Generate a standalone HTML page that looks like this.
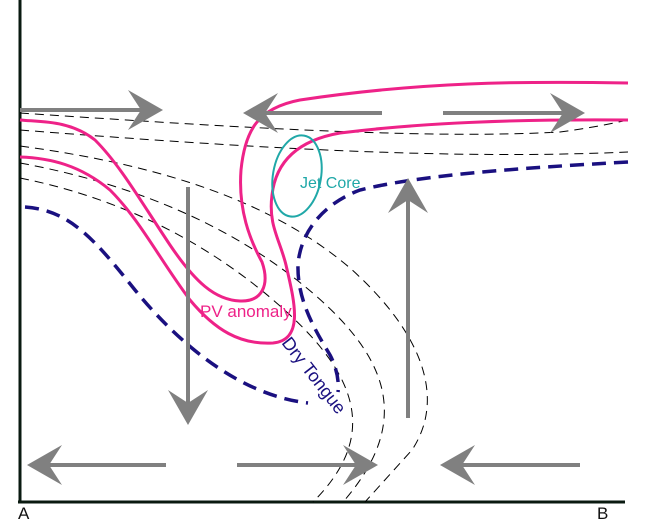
<!DOCTYPE html>
<html><head><meta charset="utf-8"><style>
html,body{margin:0;padding:0;background:#fff;}
svg{display:block;}
text{font-family:"Liberation Sans",sans-serif;}
</style></head><body>
<svg width="650" height="524" viewBox="0 0 650 524" xmlns="http://www.w3.org/2000/svg">
<line x1="20" y1="0" x2="20" y2="503" stroke="#0a1a10" stroke-width="3"/>
<line x1="18" y1="502" x2="625" y2="502" stroke="#0a1a10" stroke-width="3"/>
<text x="18" y="519" font-size="17" fill="#111">A</text>
<text x="597" y="519" font-size="17" fill="#111">B</text>

<g fill="none" stroke="#000" stroke-width="1" stroke-dasharray="9,6">
<path d="M20,113 C200,125 420,140 560,132 C590,128 610,124 628,120"/>
<path d="M20,130 C250,148 450,160 628,152"/>
<path d="M20,146 C160,165 270,200 350,268 C425,335 445,400 412,450 L365,502"/>
<path d="M20,163 C140,185 240,230 315,295 C392,362 410,425 343,502"/>
<path d="M20,178 C130,200 220,250 290,315 C362,382 375,440 313,502"/>
</g>

<g fill="none" stroke="#1a1080" stroke-width="3.5" stroke-dasharray="14,8">
<path d="M25,207 C70,210 95,240 135,290 C180,345 240,395 308,403"/>
<path d="M628,162 C520,168 420,175 360,190 C320,205 300,235 298,265 C297,300 315,330 330,355 C338,370 339,385 338,392"/>
</g>

<g fill="none" stroke="#ee2288" stroke-width="3">
<path d="M628,83 C520,81 420,82 300,100 C258,108 245,130 241,170 C238,210 250,240 262,262 C270,285 262,302 240,301 C215,300 195,282 170,245 C140,200 120,165 95,140 C70,120 40,122 20,120"/>
<path d="M628,120 C520,119 420,123 340,133 C300,140 276,160 272,195 C268,225 280,240 286,265 C294,300 305,340 273,343 C240,345 215,330 190,300 C160,260 140,220 110,190 C80,165 50,158 20,157"/>
</g>

<ellipse cx="297" cy="176" rx="24" ry="41" transform="rotate(10 297 176)" fill="none" stroke="#20a8a8" stroke-width="2"/>
<text x="300" y="188" font-size="16" fill="#20a8a8">Jet Core</text>
<text x="200" y="317" font-size="17" fill="#ee2288">PV anomaly</text>
<text x="281" y="343" font-size="18" fill="#1a1080" transform="rotate(52 281 343)">Dry Tongue</text>

<g stroke="#808080" stroke-width="4" fill="#808080">
<line x1="20" y1="110" x2="141" y2="110"/>
<polygon stroke="none" points="163,110 128,90 141,110 128,130"/>
<line x1="265" y1="113" x2="382" y2="113"/>
<polygon stroke="none" points="243,113 278,93 265,113 278,133"/>
<line x1="443" y1="113" x2="563" y2="113"/>
<polygon stroke="none" points="585,113 550,93 563,113 550,133"/>
<line x1="188" y1="187" x2="188" y2="403"/>
<polygon stroke="none" points="188,425 168,390 188,403 208,390"/>
<line x1="408" y1="418" x2="408" y2="200"/>
<polygon stroke="none" points="408,178 388,213 408,200 428,213"/>
<line x1="49" y1="465" x2="166" y2="465"/>
<polygon stroke="none" points="27,465 62,445 49,465 62,485"/>
<line x1="237" y1="465" x2="356" y2="465"/>
<polygon stroke="none" points="378,465 343,445 356,465 343,485"/>
<line x1="462" y1="465" x2="580" y2="465"/>
<polygon stroke="none" points="440,465 475,445 462,465 475,485"/>
</g>
</svg>
</body></html>
